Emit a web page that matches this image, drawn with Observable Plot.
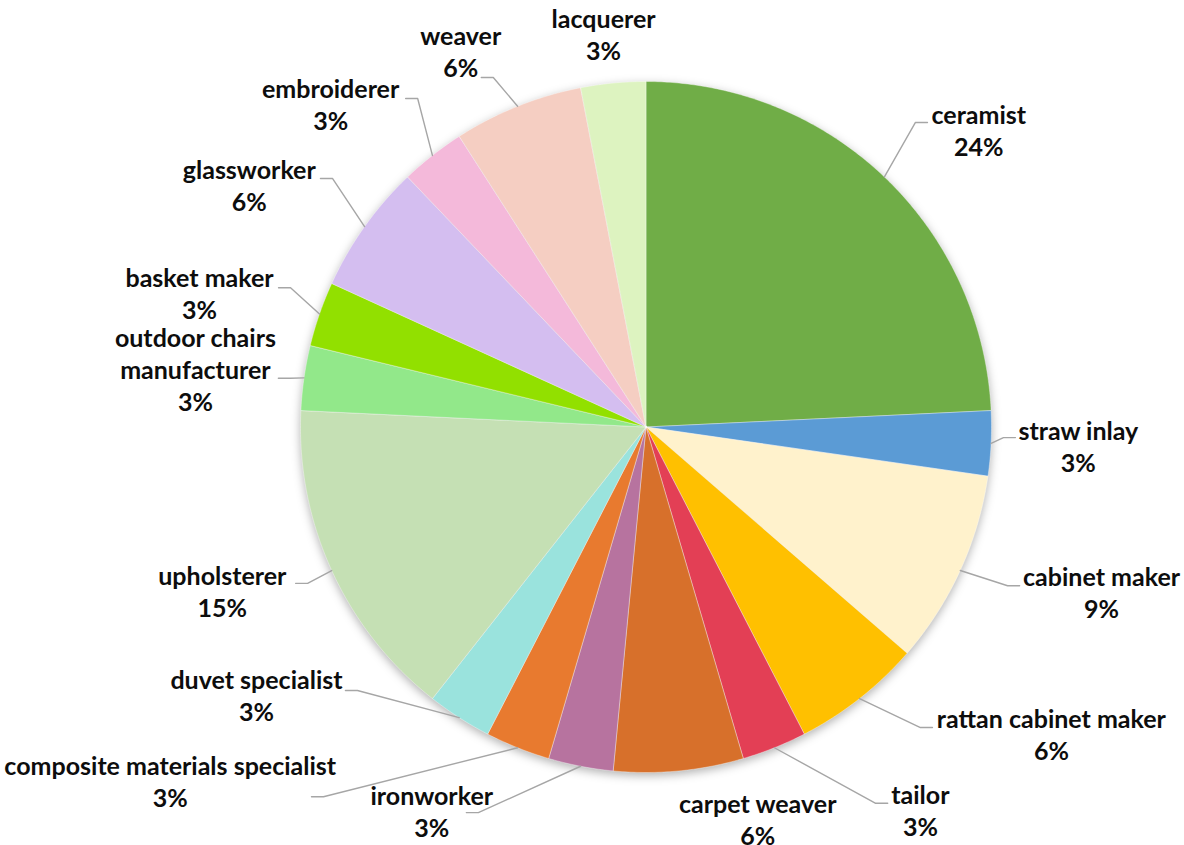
<!DOCTYPE html>
<html>
<head>
<meta charset="utf-8">
<script src="https://cdn.jsdelivr.net/npm/d3@7"></script>
<script src="https://cdn.jsdelivr.net/npm/@observablehq/plot@0.6"></script>
<style>
  html, body { margin: 0; padding: 0; background: #ffffff; }
  #chart svg { display: block; }
</style>
</head>
<body>
<div id="chart"></div>
<script>
// ---- data ----
const categories = [
  "ceramist", "straw inlay", "cabinet maker", "rattan cabinet maker", "tailor",
  "carpet weaver", "ironworker", "composite materials specialist", "duvet specialist",
  "upholsterer", "outdoor chairs manufacturer", "basket maker", "glassworker",
  "embroiderer", "weaver", "lacquerer"
];
const counts = [8, 1, 3, 2, 1, 2, 1, 1, 1, 5, 1, 1, 2, 1, 2, 1];
const colors = [
  "#70AD47", "#5B9BD5", "#FFF2CC", "#FFC000", "#E33F55",
  "#D7702B", "#B7739F", "#E87A2F", "#9AE3DD",
  "#C5E0B4", "#92E88A", "#92E000", "#D4BEF0",
  "#F4B9DA", "#F5CEC2", "#DDF3C0"
];
const displayText = { "outdoor chairs manufacturer": "outdoor chairs\nmanufacturer" };

// ---- label layout (angle in degrees clockwise from 12 o'clock, radius in pie radii) ----
const labelAngle  = [48.5, 92.9, 110.2, 127.4, 144.6, 164.2, 209.0, 233.1, 235.2, 248.5, 277.0, 286.4, 301.1, 315.4, 333.6, 353.8];
const labelRadius = [1.286, 1.253, 1.405, 1.477, 1.371, 1.188, 1.279, 1.722, 1.373, 1.318, 1.314, 1.347, 1.341, 1.300, 1.206, 1.136];
const elbowAngle  = [41.5, 91.7, 113.7, 137.6, 148.6, null, 203.5, 221.1, 227.6, 245.2, 277.8, 291.4, 308.4, 325.2, 336.4, null];
const elbowRadius = [1.177, 1.035, 1.143, 1.178, 1.276, null, 1.217, 1.420, 1.131, 1.079, 1.039, 1.105, 1.158, 1.158, 1.104, null];
const elbowSide   = [1, 1, 1, 1, 1, 0, -1, -1, -1, -1, -1, -1, -1, -1, -1, 0];

// ---- geometry ----
const W = 1184, H = 845;
const CX = 645.5, CY = 426.5, R = 345.5; // pixel centre and radius of the pie
const total = d3.sum(counts);
const rad = (deg) => deg * Math.PI / 180;

const arcs = d3.pie().sort(null).value((d) => d.count)(
  categories.map((name, i) => ({ name, count: counts[i], i }))
);

// slice polygons (unit-circle coordinates, y up)
const slicePts = [];
for (const a of arcs) {
  const n = Math.max(2, Math.ceil((a.endAngle - a.startAngle) / rad(0.5)));
  slicePts.push({ name: a.data.name, x: 0, y: 0 });
  for (let k = 0; k <= n; k++) {
    const t = a.startAngle + (a.endAngle - a.startAngle) * k / n;
    slicePts.push({ name: a.data.name, x: Math.sin(t), y: Math.cos(t) });
  }
  slicePts.push({ name: a.data.name, x: 0, y: 0 });
}

// labels
const labels = arcs.map((a, i) => {
  const t = rad(labelAngle[i]);
  const pct = Math.round(a.data.count / total * 100);
  const name = displayText[a.data.name] ?? a.data.name;
  return {
    name: a.data.name,
    x: labelRadius[i] * Math.sin(t),
    y: labelRadius[i] * Math.cos(t),
    text: `${name}\n${pct}%`
  };
});

// leader lines: arc mid-point -> elbow -> short horizontal tail
const tail = 12 / R;
const leaders = [];
arcs.forEach((a, i) => {
  if (elbowAngle[i] == null) return;
  const mid = (a.startAngle + a.endAngle) / 2;
  const e = rad(elbowAngle[i]);
  const ex = elbowRadius[i] * Math.sin(e), ey = elbowRadius[i] * Math.cos(e);
  leaders.push({ name: a.data.name, x: Math.sin(mid), y: Math.cos(mid) });
  leaders.push({ name: a.data.name, x: ex, y: ey });
  leaders.push({ name: a.data.name, x: ex + elbowSide[i] * tail, y: ey });
});

const chart = Plot.plot({
  width: W,
  height: H,
  margin: 0,
  x: { domain: [-CX / R, (W - CX) / R], axis: null },
  y: { domain: [-(H - CY) / R, CY / R], axis: null },
  color: { domain: categories, range: colors },
  marks: [
    Plot.line(slicePts, {
      x: "x", y: "y", z: "name", fill: "name",
      stroke: "#ffffff", strokeWidth: 0.6, strokeOpacity: 0.6,
      curve: "linear-closed",
      imageFilter: "drop-shadow(0px 3px 5px rgba(0,0,0,0.30))"
    }),
    Plot.line(leaders, {
      x: "x", y: "y", z: "name",
      stroke: "#A6A6A6", strokeWidth: 1.4
    }),
    Plot.text(labels, {
      x: "x", y: "y", text: "text", dy: -3,
      fontFamily: "Lato", fontWeight: "bold", fontSize: 25,
      lineHeight: 1.28, lineAnchor: "middle", textAnchor: "middle",
      fill: "#0D0D0D"
    })
  ]
});

document.getElementById("chart").appendChild(chart);
</script>
</body>
</html>
